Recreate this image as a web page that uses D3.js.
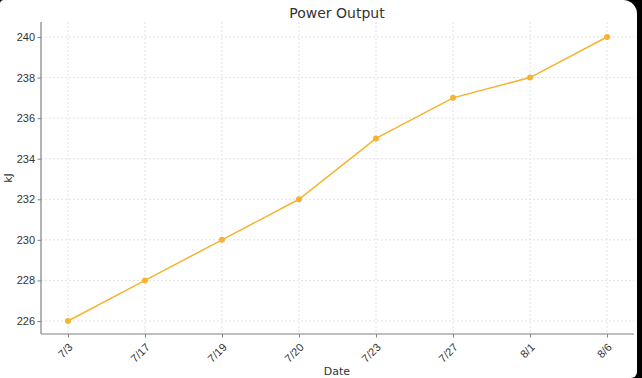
<!DOCTYPE html>
<html lang="en">
<head>
<meta charset="utf-8">
<title>Power Output</title>
<style>
  html, body { margin: 0; padding: 0; background: #000; }
  #frame {
    width: 637px; height: 378px; background: #fff;
    border-radius: 4px 14px 6px 0;
    overflow: hidden;
  }
  svg { font-family: "DejaVu Sans", sans-serif; }
  .grid line { stroke: #dcdcdc; stroke-dasharray: 2,2; stroke-width: 0.8; }
  .axis path, .axis line { stroke: #808080; }
  .axis text { fill: #333; font-size: 11px; }
</style>
</head>
<body>
<div id="frame"><svg width="637" height="378"></svg></div>
<script src="https://cdn.jsdelivr.net/npm/d3@7"></script>
<script>
  // data
  var dates = ["7/3", "7/17", "7/19", "7/20", "7/23", "7/27", "8/1", "8/6"];
  var output = [226, 228, 230, 232, 235, 237, 238, 240];
  var yTicks = [226, 228, 230, 232, 234, 236, 238, 240];

  var plotL = 41, plotR = 634, plotT = 22, plotB = 334;
  var svg = d3.select("svg");

  var x = d3.scalePoint().domain(dates).range([plotL, plotR]).padding(0.35);
  var y = d3.scaleLinear().domain([225.3, 240.7]).range([plotB + 1.2, plotT + 0.8]);

  // grid
  var grid = svg.append("g").attr("class", "grid");
  grid.selectAll(".gx").data(dates).enter().append("line")
      .attr("x1", d => x(d)).attr("x2", d => x(d))
      .attr("y1", plotT).attr("y2", plotB);
  grid.selectAll(".gy").data(yTicks).enter().append("line")
      .attr("x1", plotL).attr("x2", plotR)
      .attr("y1", d => y(d)).attr("y2", d => y(d));

  // axes
  var xAxis = svg.append("g").attr("class", "axis")
      .attr("transform", "translate(0," + plotB + ")")
      .call(d3.axisBottom(x).tickSize(3.5).tickSizeOuter(0));
  xAxis.select(".domain").attr("d", "M" + plotL + ",0H" + plotR).attr("stroke-width", 1.2);
  xAxis.selectAll("text")
      .attr("text-anchor", "end")
      .attr("dy", null).attr("y", 0)
      .attr("font-size", "11.5px")
      .attr("transform", "translate(5,14) rotate(-45)");

  var yAxis = svg.append("g").attr("class", "axis")
      .attr("transform", "translate(" + plotL + ",0)")
      .call(d3.axisLeft(y).tickValues(yTicks).tickSize(3.5).tickSizeOuter(0));
  yAxis.select(".domain").attr("d", "M0," + plotT + "V" + plotB).attr("stroke-width", 1.2);
  yAxis.selectAll("text").attr("x", -6);

  // line + markers
  var line = d3.line().x((d, i) => x(dates[i])).y(d => y(d));
  svg.append("path").datum(output)
      .attr("d", line)
      .attr("fill", "none")
      .attr("stroke", "#f5b330")
      .attr("stroke-width", 1.5);
  svg.selectAll(".pt").data(output).enter().append("circle")
      .attr("cx", (d, i) => x(dates[i]))
      .attr("cy", d => y(d))
      .attr("r", 3)
      .attr("fill", "#f5b330");

  // labels
  svg.append("text").attr("x", 337).attr("y", 18)
      .attr("text-anchor", "middle").attr("font-size", "14px").attr("fill", "#333")
      .text("Power Output");
  svg.append("text").attr("x", 337).attr("y", 375)
      .attr("text-anchor", "middle").attr("font-size", "11px").attr("fill", "#333")
      .text("Date");
  svg.append("text")
      .attr("transform", "translate(12,178) rotate(-90)")
      .attr("text-anchor", "middle").attr("font-size", "11px").attr("fill", "#333")
      .text("kJ");
</script>
</body>
</html>
